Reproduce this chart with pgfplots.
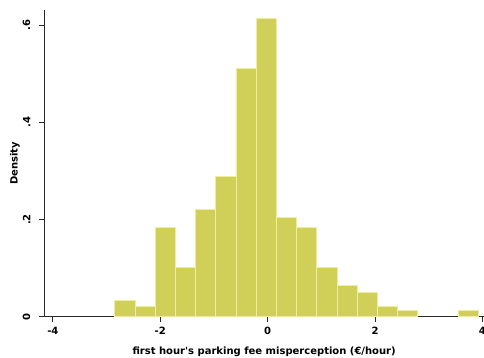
\documentclass[border=0pt]{standalone}
\usepackage{pgfplots}
\pgfplotsset{compat=1.18}
\usepackage{fontspec}
\setmainfont{DejaVu Sans}
\definecolor{barfill}{RGB}{208,208,88}
\definecolor{baredge}{RGB}{238,238,160}
\definecolor{axcol}{RGB}{40,40,40}
\begin{document}
\begin{tikzpicture}
\path[use as bounding box] (-44.3pt,-41.3pt) rectangle (439.7pt,316.7pt);
\begin{axis}[
  scale only axis,
  width=439.7pt, height=306.7pt,
  xmin=-4.16, xmax=4.03, ymin=0, ymax=0.631,
  axis lines*=left,
  axis line style={draw=axcol, line width=0.9pt},
  tick style={draw=axcol, line width=0.9pt},
  tick align=outside, major tick length=5pt,
  xtick={-4,-2,0,2,4}, xticklabels={-4,-2,0,2,4},
  ytick={0,0.2,0.4,0.6}, yticklabels={0,.2,.4,.6},
  minor tick num=0,
  font=\bfseries\fontsize{10}{12}\selectfont,
  xticklabel style={anchor=north, yshift=-1.5pt},
  yticklabel style={xshift=-5.5pt, rotate=90, anchor=south},
  xlabel={first hour\textquotesingle s parking fee misperception (€/hour)},
  ylabel={Density},
  every axis x label/.style={at={(axis description cs:0.5,0)}, anchor=center, yshift=-35.3pt},
  every axis y label/.style={at={(axis description cs:0,0.5)}, xshift=-29.3pt, rotate=90, anchor=center},
  clip=false,
]
\addplot[ybar interval, fill=barfill, draw=baredge, line width=0.8pt] coordinates {
(-2.846,0.034) (-2.470,0.021) (-2.094,0.184) (-1.718,0.102) (-1.342,0.221)
(-0.966,0.288) (-0.590,0.511) (-0.214,0.614) (0.162,0.205) (0.538,0.184)
(0.914,0.102) (1.290,0.065) (1.666,0.050) (2.042,0.021) (2.418,0.012) (2.794,0)};
\addplot[ybar interval, fill=barfill, draw=baredge, line width=0.8pt] coordinates {
(3.546,0.012) (3.922,0)};
\end{axis}
\end{tikzpicture}
\end{document}
